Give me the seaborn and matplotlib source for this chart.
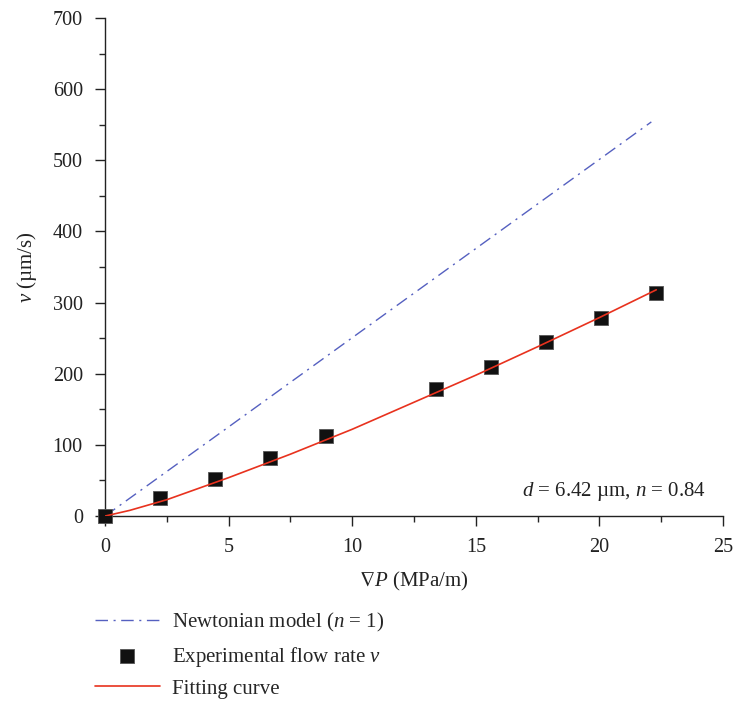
import numpy as np
import pandas as pd
import matplotlib
matplotlib.use('Agg')
import matplotlib.pyplot as plt
from matplotlib.ticker import MultipleLocator
import seaborn as sns

# data
exp_x = [0, 2.23, 4.46, 6.69, 8.92, 13.38, 15.61, 17.84, 20.07, 22.3]
exp_v = [0, 25, 52, 82, 113, 178, 210, 244, 279, 314]

newton_x = [0, 22.1]
newton_v = [0, 554]

fit_x = [0, 1.0, 2.5, 5.0, 7.5, 10.0, 12.5, 15.0, 17.5, 20.0, 22.3]
fit_v = [0, 8, 23, 54, 87, 122, 160, 198, 238, 279, 318]

sns.set_style('ticks')
plt.rcParams['font.family'] = ['Liberation Serif', 'DejaVu Serif']
plt.rcParams['mathtext.fontset'] = 'custom'
plt.rcParams['mathtext.rm'] = 'Liberation Serif'
plt.rcParams['mathtext.it'] = 'Liberation Serif:italic'
plt.rcParams['mathtext.fallback'] = 'stix'

fig = plt.figure(figsize=(7.35, 7.05), dpi=100)
ax = fig.add_axes([0.1429, 0.268, 0.8408, 0.7064])

sns.lineplot(x=newton_x, y=newton_v, ax=ax, color='#5560c0', lw=1.0,
             linestyle=(0, (9, 4, 1.5, 4)), label='Newtonian model ($\\mathit{n}$ = 1)')
sns.scatterplot(x=exp_x, y=exp_v, ax=ax, marker='s', s=110, color='#111111',
                edgecolor='#555555', linewidth=0.6, zorder=3, clip_on=False,
                label='Experimental flow rate $\\mathit{v}$')
sns.lineplot(x=fit_x, y=fit_v, ax=ax, color='#e8321e', lw=1.2, zorder=4,
             label='Fitting curve')

ax.set_xlim(0, 25)
ax.set_ylim(0, 700)
ax.xaxis.set_major_locator(MultipleLocator(5))
ax.xaxis.set_minor_locator(MultipleLocator(2.5))
ax.yaxis.set_major_locator(MultipleLocator(100))
ax.yaxis.set_minor_locator(MultipleLocator(50))
ax.tick_params(which='major', direction='out', length=7, width=1, labelsize=14.5,
               colors='#222222', pad=9)
ax.tick_params(which='minor', direction='out', length=4, width=1)
for s in ['left', 'bottom']:
    ax.spines[s].set_color('#222222')
    ax.spines[s].set_linewidth(1)
sns.despine(ax=ax)

ax.set_xlabel('$\\nabla\\mathit{P}$ (MPa/m)', fontsize=15, color='#222222', labelpad=9)
ax.set_ylabel('$\\mathit{v}$ (\u00b5m/s)', fontsize=15, color='#222222', labelpad=10)

ax.text(24.3, 34, '$\\mathit{d}$ = 6.42 \u00b5m, $\\mathit{n}$ = 0.84', ha='right', va='center',
        fontsize=15, color='#222222')

# legend sits under the axes, left aligned
ax.legend(loc='upper left', bbox_to_anchor=(0.118, 0.145), bbox_transform=fig.transFigure,
          frameon=False, fontsize=15, handlelength=3.1, handletextpad=0.6,
          labelspacing=0.5, borderaxespad=0)

plt.savefig('out.png', dpi=100)
